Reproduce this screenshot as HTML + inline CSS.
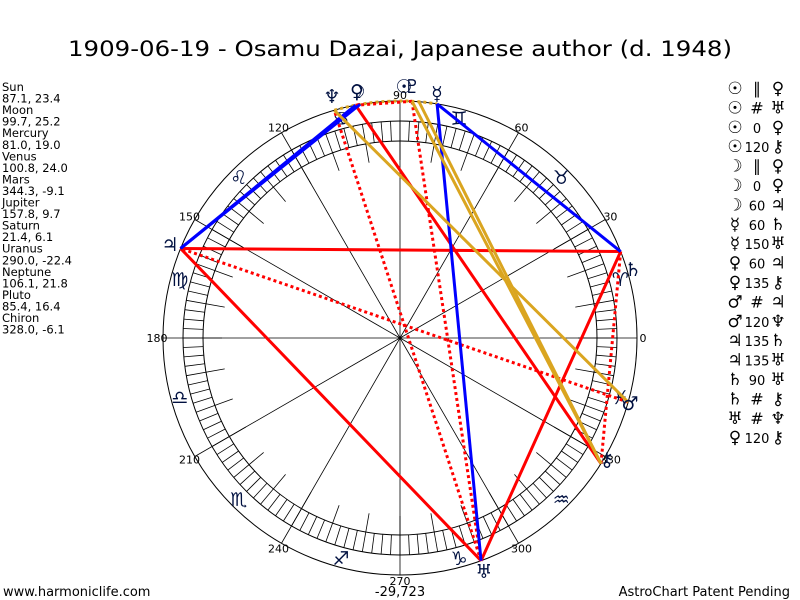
<!DOCTYPE html>
<html><head><meta charset="utf-8"><style>
html,body{margin:0;padding:0;background:#fff;}
svg{display:block;font-family:"DejaVu Sans","Liberation Sans",sans-serif;}
</style></head><body>
<svg id="s" width="800" height="600" viewBox="0 0 800 600" xmlns="http://www.w3.org/2000/svg">
<rect width="800" height="600" fill="#fff"/>
<text x="400" y="56" font-size="21" text-anchor="middle" fill="#000" textLength="664" lengthAdjust="spacingAndGlyphs">1909-06-19 - Osamu Dazai, Japanese author (d. 1948)</text>
<g id="side" font-size="11.5" fill="#000"></g>
<g id="chart"></g>
<g id="leg" fill="#000"></g>
<text x="3" y="596" font-size="13">www.harmoniclife.com</text>
<text x="400" y="596" font-size="13" text-anchor="middle">-29,723</text>
<text x="790" y="596" font-size="13" text-anchor="end">AstroChart Patent Pending</text>
</svg>
<script>
var NS="http://www.w3.org/2000/svg";
function el(p,t,a,txt){var e=document.createElementNS(NS,t);for(var k in a)e.setAttribute(k,a[k]);if(txt!==undefined)e.textContent=txt;p.appendChild(e);return e;}
var side=document.getElementById('side');
var sl=["Sun","87.1, 23.4","Moon","99.7, 25.2","Mercury","81.0, 19.0","Venus","100.8, 24.0","Mars","344.3, -9.1","Jupiter","157.8, 9.7","Saturn","21.4, 6.1","Uranus","290.0, -22.4","Neptune","106.1, 21.8","Pluto","85.4, 16.4","Chiron","328.0, -6.1"];
sl.forEach(function(s,i){el(side,'text',{x:2,y:91+i*11.55},s);});
var C=document.getElementById('chart');var cx=400,cy=338;
function P(a,r){var t=a*Math.PI/180;return [cx+r*Math.cos(t),cy-r*Math.sin(t)];}
el(C,'circle',{cx:cx,cy:cy,r:237,fill:'none',stroke:'#000','stroke-width':1});
el(C,'circle',{cx:cx,cy:cy,r:217,fill:'none',stroke:'#000','stroke-width':1});
el(C,'circle',{cx:cx,cy:cy,r:197,fill:'none',stroke:'#000','stroke-width':1});
for(var a=0;a<360;a+=2.5){var r1=(a%10==0)?178:197;var p=P(a,r1),q=P(a,217);el(C,'line',{x1:p[0],y1:p[1],x2:q[0],y2:q[1],stroke:'#000','stroke-width':0.8});}
for(var a=0;a<360;a+=30){var p=P(a,237);el(C,'line',{x1:cx,y1:cy,x2:p[0],y2:p[1],stroke:'#000','stroke-width':0.8});
var l=P(a,243);el(C,'text',{x:l[0],y:l[1]+4,'font-size':11,'text-anchor':'middle',fill:'#000'},String(a));}
var signs="♈♉♊♋♌♍♎♏♐♑♒♓";
for(var i=0;i<12;i++){var p=P(15+30*i,228);el(C,'text',{x:p[0],y:p[1]+7,'font-size':19,'text-anchor':'middle',fill:'#001040','font-family':'DejaVu Sans'},signs[i]+'\uFE0E');}
var L={Su:87.1,Mo:99.7,Me:81.0,Ve:100.8,Ma:344.3,Ju:157.8,Sa:21.4,Ur:290.0,Ne:106.1,Pl:85.4,Ch:328.0};
function line(a,b,col,dash){var p=P(L[a],237),q=P(L[b],237);var at={x1:p[0],y1:p[1],x2:q[0],y2:q[1],stroke:col,'stroke-width':3};if(dash)at['stroke-dasharray']='3,3';el(C,'line',at);}
var a1=P(106.1,237),a2=P(81,237);el(C,'path',{d:'M'+a1[0]+' '+a1[1]+' A237 237 0 0 1 '+a2[0]+' '+a2[1],fill:'none',stroke:'#DAA520','stroke-width':3,'stroke-dasharray':'3,3'});
line('Su','Ve','red',1);line('Mo','Ve','red',1);line('Su','Ur','red',1);line('Ma','Ju','red',1);line('Sa','Ch','red',1);line('Ur','Ne','red',1);
line('Ve','Ch','red');line('Ju','Sa','red');line('Ju','Ur','red');line('Sa','Ur','red');
line('Mo','Ju','blue');line('Ve','Ju','blue');line('Me','Sa','blue');line('Me','Ur','blue');
line('Su','Ch','#DAA520');line('Pl','Ch','#DAA520');line('Ma','Ne','#DAA520');
var G=[['♆',332,96],['☽',357,91],['♀',357,91],['☉',404,86],['♇',412,86],['☿',437,93],['♄',633,269],['♂',630,403],['⚷',607,459],['♅',484,571],['♃',170,244]];
G.forEach(function(g){el(C,'text',{x:g[1],y:g[2]+7,'font-size':19,'text-anchor':'middle',fill:'#001040','font-family':'DejaVu Sans'},g[0]+'\uFE0E');});
var leg=document.getElementById('leg');
var rows=[['☉','∥','♀'],['☉','#','♅'],['☉','0','♀'],['☉','120','⚷'],['☽','∥','♀'],['☽','0','♀'],['☽','60','♃'],['☿','60','♄'],['☿','150','♅'],['♀','60','♃'],['♀','135','⚷'],['♂','#','♃'],['♂','120','♆'],['♃','135','♄'],['♃','135','♅'],['♄','90','♅'],['♄','#','⚷'],['♅','#','♆'],['♀','120','⚷']];
rows.forEach(function(r,i){var y=94+i*19.4;
el(leg,'text',{x:735,y:y,'font-size':17,'text-anchor':'middle','font-family':'DejaVu Sans','font-weight':'bold'},r[0]+'\uFE0E');
el(leg,'text',{x:757,y:y,'font-size':r[1]=='#'||r[1]=='∥'?16:13,'text-anchor':'middle'},r[1]);
el(leg,'text',{x:778,y:y,'font-size':17,'text-anchor':'middle','font-family':'DejaVu Sans'},r[2]+'\uFE0E');});
</script>
</body></html>
